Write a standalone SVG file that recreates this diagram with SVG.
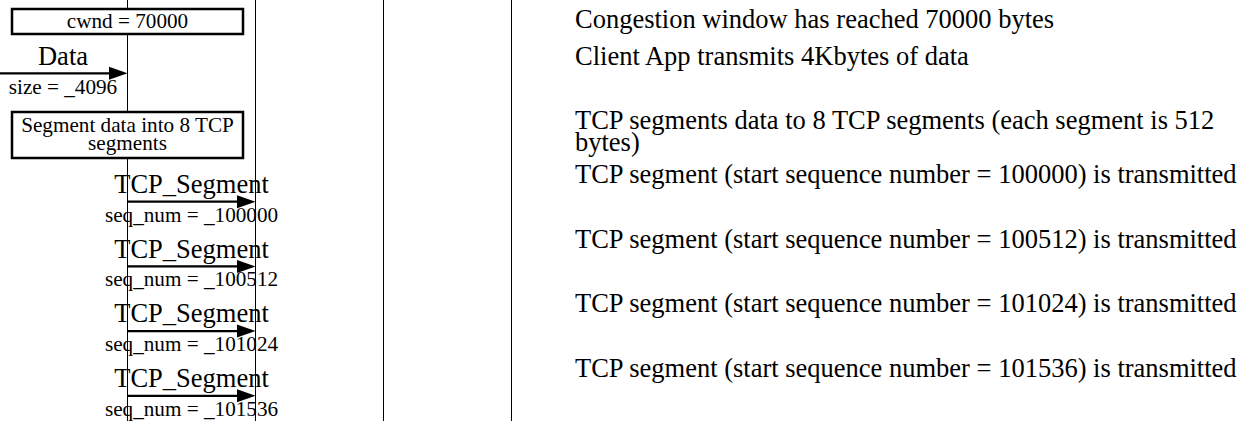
<svg xmlns="http://www.w3.org/2000/svg" width="1258" height="421" viewBox="0 0 1258 421">
<style>
text{font-family:"Liberation Serif","Times New Roman",serif;fill:#000}
.big{font-size:26.5px}
.small{font-size:21.2px}
.mid{text-anchor:middle}
.life{stroke:#000;stroke-width:1;fill:none}
.box{fill:#fff;stroke:#000;stroke-width:2.5}
.msg{stroke:#000;stroke-width:2.2;fill:none}
.head{fill:#000;stroke:none}
</style>
<rect width="1258" height="421" fill="#fff"/>
<g id="lifelines">
<line class="life" x1="127.5" y1="0" x2="127.5" y2="421"/>
<line class="life" x1="255.5" y1="0" x2="255.5" y2="421"/>
<line class="life" x1="383.5" y1="0" x2="383.5" y2="421"/>
<line class="life" x1="511.5" y1="0" x2="511.5" y2="421"/>
</g>
<g id="node-cwnd">
<rect class="box" x="12" y="9" width="231" height="25"/>
<text class="small mid" x="127.5" y="28">cwnd = 70000</text>
</g>
<g id="node-segment">
<rect class="box" x="12" y="112" width="231" height="46"/>
<text class="small mid" x="127.5" y="132">Segment data into 8 TCP</text>
<text class="small mid" x="127.5" y="150">segments</text>
</g>
<g id="connectors">
<g id="msg-data">
<line class="msg" x1="0" y1="73.3" x2="112" y2="73.3"/>
<polygon class="head" points="127.5,73.3 109,66.8 109,79.8"/>
<text class="big mid" x="63" y="65">Data</text>
<text class="small mid" x="63" y="93.5">size = _4096</text>
</g>
<g id="msg-seg1">
<line class="msg" x1="127.5" y1="201.7" x2="240" y2="201.7"/>
<polygon class="head" points="255.5,201.7 237,195.2 237,208.2"/>
<text class="big mid" x="191.5" y="193">TCP_Segment</text>
<text class="small mid" x="191.5" y="221.7">seq_num = _100000</text>
</g>
<g id="msg-seg2">
<line class="msg" x1="127.5" y1="266.4" x2="240" y2="266.4"/>
<polygon class="head" points="255.5,266.4 237,259.9 237,272.9"/>
<text class="big mid" x="191.5" y="257.7">TCP_Segment</text>
<text class="small mid" x="191.5" y="286.4">seq_num = _100512</text>
</g>
<g id="msg-seg3">
<line class="msg" x1="127.5" y1="331.1" x2="240" y2="331.1"/>
<polygon class="head" points="255.5,331.1 237,324.6 237,337.6"/>
<text class="big mid" x="191.5" y="322.4">TCP_Segment</text>
<text class="small mid" x="191.5" y="351.1">seq_num = _101024</text>
</g>
<g id="msg-seg4">
<line class="msg" x1="127.5" y1="395.8" x2="240" y2="395.8"/>
<polygon class="head" points="255.5,395.8 237,389.3 237,402.3"/>
<text class="big mid" x="191.5" y="387.1">TCP_Segment</text>
<text class="small mid" x="191.5" y="415.8">seq_num = _101536</text>
</g>
</g>
<g id="notes">
<text class="big" x="575" y="28">Congestion window has reached 70000 bytes</text>
<text class="big" x="575" y="65">Client App transmits 4Kbytes of data</text>
<text class="big" x="575" y="129">TCP segments data to 8 TCP segments (each segment is 512</text>
<text class="big" x="575" y="151">bytes)</text>
<text class="big" x="575" y="183">TCP segment (start sequence number = 100000) is transmitted</text>
<text class="big" x="575" y="247.7">TCP segment (start sequence number = 100512) is transmitted</text>
<text class="big" x="575" y="312.4">TCP segment (start sequence number = 101024) is transmitted</text>
<text class="big" x="575" y="377.1">TCP segment (start sequence number = 101536) is transmitted</text>
</g>
</svg>
